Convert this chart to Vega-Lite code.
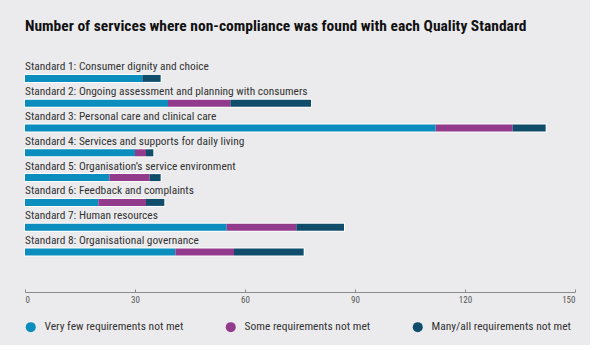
{
  "$schema": "https://vega.github.io/schema/vega-lite/v6.json",
  "width": 590,
  "height": 345,
  "autosize": {"type": "fit", "contains": "padding"},
  "padding": {"left": 24, "right": 14, "top": 23, "bottom": 12},
  "background": "#ebebed",
  "title": {
    "text": "Number of services where non-compliance was found with each Quality Standard",
    "anchor": "start",
    "frame": "group",
    "font": "Roboto Condensed, Roboto",
    "fontSize": 15.5,
    "fontWeight": "bold",
    "color": "#111111",
    "offset": 27
  },
  "config": {
    "view": {"stroke": null},
    "font": "Roboto Condensed, Roboto"
  },
  "data": {
    "values": [
      {"standard": "Standard 1: Consumer dignity and choice", "category": "Very few requirements not met", "order": 1, "count": 32},
      {"standard": "Standard 1: Consumer dignity and choice", "category": "Some requirements not met", "order": 2, "count": 0},
      {"standard": "Standard 1: Consumer dignity and choice", "category": "Many/all requirements not met", "order": 3, "count": 5},
      {"standard": "Standard 2: Ongoing assessment and planning with consumers", "category": "Very few requirements not met", "order": 1, "count": 39},
      {"standard": "Standard 2: Ongoing assessment and planning with consumers", "category": "Some requirements not met", "order": 2, "count": 17},
      {"standard": "Standard 2: Ongoing assessment and planning with consumers", "category": "Many/all requirements not met", "order": 3, "count": 22},
      {"standard": "Standard 3: Personal care and clinical care", "category": "Very few requirements not met", "order": 1, "count": 112},
      {"standard": "Standard 3: Personal care and clinical care", "category": "Some requirements not met", "order": 2, "count": 21},
      {"standard": "Standard 3: Personal care and clinical care", "category": "Many/all requirements not met", "order": 3, "count": 9},
      {"standard": "Standard 4: Services and supports for daily living", "category": "Very few requirements not met", "order": 1, "count": 30},
      {"standard": "Standard 4: Services and supports for daily living", "category": "Some requirements not met", "order": 2, "count": 3},
      {"standard": "Standard 4: Services and supports for daily living", "category": "Many/all requirements not met", "order": 3, "count": 2},
      {"standard": "Standard 5: Organisation’s service environment", "category": "Very few requirements not met", "order": 1, "count": 23},
      {"standard": "Standard 5: Organisation’s service environment", "category": "Some requirements not met", "order": 2, "count": 11},
      {"standard": "Standard 5: Organisation’s service environment", "category": "Many/all requirements not met", "order": 3, "count": 3},
      {"standard": "Standard 6: Feedback and complaints", "category": "Very few requirements not met", "order": 1, "count": 20},
      {"standard": "Standard 6: Feedback and complaints", "category": "Some requirements not met", "order": 2, "count": 13},
      {"standard": "Standard 6: Feedback and complaints", "category": "Many/all requirements not met", "order": 3, "count": 5},
      {"standard": "Standard 7: Human resources", "category": "Very few requirements not met", "order": 1, "count": 55},
      {"standard": "Standard 7: Human resources", "category": "Some requirements not met", "order": 2, "count": 19},
      {"standard": "Standard 7: Human resources", "category": "Many/all requirements not met", "order": 3, "count": 13},
      {"standard": "Standard 8: Organisational governance", "category": "Very few requirements not met", "order": 1, "count": 41},
      {"standard": "Standard 8: Organisational governance", "category": "Some requirements not met", "order": 2, "count": 16},
      {"standard": "Standard 8: Organisational governance", "category": "Many/all requirements not met", "order": 3, "count": 19}
    ]
  },
  "encoding": {
    "y": {
      "field": "standard",
      "type": "nominal",
      "sort": null,
      "axis": null,
      "scale": {"paddingInner": 0, "paddingOuter": 0.556, "align": 0}
    }
  },
  "layer": [
    {
      "mark": {"type": "bar", "size": 7, "fill": "#ffffff", "stroke": "#ffffff", "strokeWidth": 2},
      "encoding": {
        "x": {"aggregate": "sum", "field": "count", "type": "quantitative", "scale": {"domain": [0, 150], "nice": false}}
      }
    },
    {
      "mark": {"type": "bar", "size": 7},
      "encoding": {
        "x": {
          "field": "count",
          "type": "quantitative",
          "stack": "zero",
          "scale": {"domain": [0, 150], "nice": false},
          "axis": {
            "title": null,
            "values": [0, 30, 60, 90, 120, 150],
            "grid": false,
            "domainColor": "#8a8a8a",
            "tickColor": "#8a8a8a",
            "tickSize": -3,
            "labelFontSize": 9,
            "labelColor": "#555555",
            "labelPadding": 6
          }
        },
        "color": {
          "field": "category",
          "type": "nominal",
          "sort": ["Very few requirements not met", "Some requirements not met", "Many/all requirements not met"],
          "scale": {
            "domain": ["Very few requirements not met", "Some requirements not met", "Many/all requirements not met"],
            "range": ["#0b8dbe", "#923b8c", "#0f4d6b"]
          },
          "legend": {
            "title": null,
            "orient": "bottom",
            "direction": "horizontal",
            "symbolType": "circle",
            "symbolSize": 100,
            "symbolStrokeWidth": 0,
            "labelFontSize": 11.5,
            "labelColor": "#333333",
            "labelOffset": 8,
            "columnPadding": 41,
            "offset": 17
          }
        },
        "order": {"field": "order"}
      }
    },
    {
      "transform": [{"filter": "datum.order == 1"}],
      "mark": {"type": "text", "align": "left", "baseline": "middle", "dy": -11, "fontSize": 11.4, "color": "#333333"},
      "encoding": {
        "x": {"datum": 0},
        "text": {"field": "standard"}
      }
    }
  ]
}
